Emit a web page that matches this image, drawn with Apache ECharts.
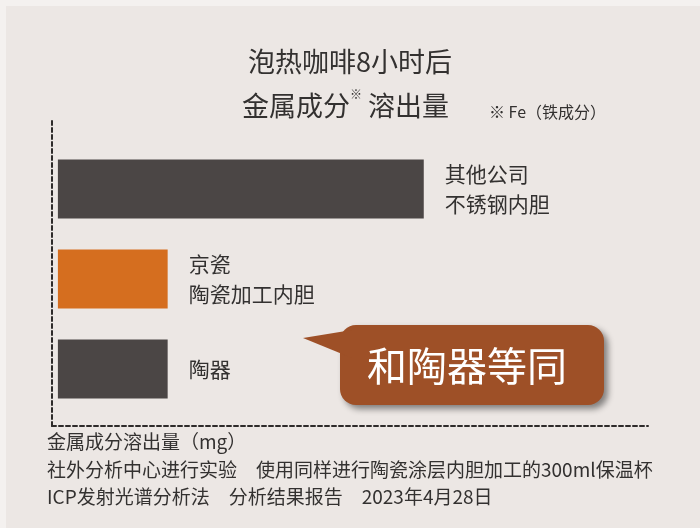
<!DOCTYPE html>
<html><head><meta charset="utf-8">
<script src="https://cdn.jsdelivr.net/npm/echarts@6/dist/echarts.min.js"></script>
<style>
html,body{margin:0;padding:0;background:#ece7e4;}
#c{width:700px;height:528px;}
</style></head>
<body><div id="c"></div>
<script>
const categories = ['其他公司\n不锈钢内胆', '京瓷\n陶瓷加工内胆', '陶器'];
const values = [62, 18.6, 18.6];
const titleLine1 = '泡热咖啡8小时后';
const titleLine2 = ['金属成分', '※', ' 溶出量'];
const noteText = '※ Fe（铁成分）';
const calloutText = '和陶器等同';
const footLines = [
  '金属成分溶出量（mg）',
  '社外分析中心进行实验　使用同样进行陶瓷涂层内胆加工的300ml保温杯',
  'ICP发射光谱分析法　分析结果报告　2023年4月28日'
];

const barPalette = ['#4b4645', '#d56e1f', '#4b4645'];
const FONT = '"Noto Sans CJK SC", "Noto Sans", sans-serif';
const TXT = '#333130';
const dash = { color: '#2e2b2a', width: 2, type: [4, 3] };

const chart = echarts.init(document.getElementById('c'));
chart.setOption({
  backgroundColor: '#ece7e4',
  animation: false,
  textStyle: { fontFamily: FONT },
  title: [
    { text: titleLine1, left: 243, top: 43, textStyle: { fontFamily: FONT, fontSize: 27, fontWeight: 'normal', color: TXT } },
    { text: '{t|' + titleLine2[0] + '}{s|' + titleLine2[1] + '}{t|' + titleLine2[2] + '}', left: 237, top: 83,
      textStyle: { fontFamily: FONT, fontWeight: 'normal', rich: {
        t: { fontFamily: FONT, fontSize: 27, fontWeight: 'normal', color: TXT, height: 36 },
        s: { fontFamily: FONT, fontSize: 12, fontWeight: 'normal', color: TXT, verticalAlign: 'top', padding: [0, 0, 18, 0] }
      } } },
    { text: noteText, left: 484, top: 99, textStyle: { fontFamily: FONT, fontSize: 16, fontWeight: 'normal', color: TXT } }
  ],
  grid: [
    { left: 52, right: 52, top: 144, height: 270 },
    { left: 52, right: 52, top: 119, height: 307 }
  ],
  xAxis: [
    { gridIndex: 0, type: 'value', min: -1, max: 100, show: false },
    { gridIndex: 1, type: 'value', min: 0, max: 100, axisLine: { show: true, lineStyle: dash }, axisTick: { show: false }, axisLabel: { show: false }, splitLine: { show: false } }
  ],
  yAxis: [
    { gridIndex: 0, type: 'category', data: categories, inverse: true, show: false },
    { gridIndex: 1, type: 'value', min: 0, max: 100, axisLine: { show: true, lineStyle: dash }, axisTick: { show: false }, axisLabel: { show: false }, splitLine: { show: false } }
  ],
  series: [{
    type: 'bar', xAxisIndex: 0, yAxisIndex: 0, barWidth: 59,
    data: values,
    itemStyle: { color: p => barPalette[p.dataIndex] },
    label: { show: true, position: 'right', distance: 21, formatter: p => categories[p.dataIndex],
      fontFamily: FONT, fontSize: 21, fontWeight: 'normal', lineHeight: 30, color: TXT }
  }],
  graphic: [
    { type: 'rect', left: 0, top: 0, shape: { width: 700, height: 528 }, style: { fill: 'none', stroke: '#f4f1ef', lineWidth: 6 }, silent: true },
    { type: 'rect', shape: { x: 340, y: 325, width: 264, height: 80, r: 16 },
      style: { fill: '#9e5027', shadowBlur: 6, shadowOffsetX: 4, shadowOffsetY: 4, shadowColor: 'rgba(0,0,0,0.45)' }, z: 10 },
    { type: 'polygon', shape: { points: [[303, 338], [352, 330], [352, 358]] }, style: { fill: '#9e5027' }, z: 11 },
    { type: 'text', x: 467, y: 366, style: { text: calloutText, fill: '#ffffff', font: '40px ' + FONT, align: 'center', verticalAlign: 'middle' }, z: 12 },
    { type: 'text', x: 47, y: 442, style: { text: footLines[0], fill: TXT, font: '19px ' + FONT, verticalAlign: 'middle' } },
    { type: 'text', x: 47, y: 470, style: { text: footLines[1], fill: TXT, font: '19px ' + FONT, verticalAlign: 'middle' } },
    { type: 'text', x: 47, y: 497, style: { text: footLines[2], fill: TXT, font: '19px ' + FONT, verticalAlign: 'middle' } }
  ]
});
</script></body></html>
